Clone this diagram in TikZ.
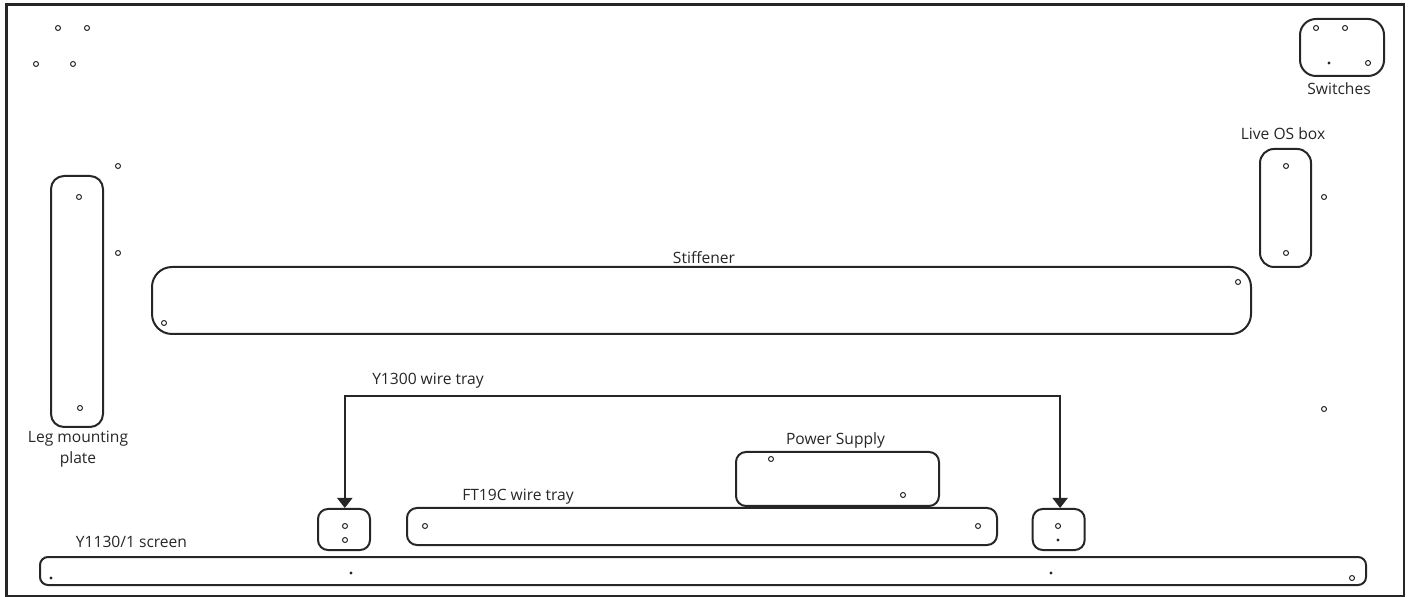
\documentclass[tikz,border=0pt]{standalone}
\usepackage{fontspec}
\setmainfont{Open Sans}
\usetikzlibrary{arrows.meta, calc}
\tikzset{
  plate/.style={draw=black!85, line width=1pt, rounded corners=#1, inner sep=0pt},
  plate/.default=7pt,
  hole/.style={draw=black!85, line width=0.5pt, circle, inner sep=0pt, minimum size=2.5pt},
  blob/.style={fill=black!85, circle, inner sep=0pt, minimum size=1.7pt},
  lbl/.style={inner sep=0pt, font=\fontsize{7.8pt}{10pt}\selectfont, text=black!85, align=center},
  wire/.style={draw=black!85, line width=1pt, -{Triangle[length=5pt,width=7.5pt]}}
}
\begin{document}
\begin{tikzpicture}[x=0.5pt,y=-0.5pt]
\useasboundingbox (0,0) rectangle (1411,597);
\draw[black!85, line width=1.1pt] (6.5,4.5) rectangle (1404,595.8);
% plates
\node (leg) [plate=6.5pt, minimum width=26pt, minimum height=125.5pt] at (77,301.5) {};
\node (stiffener) [plate=10pt, minimum width=549.5pt, minimum height=33.5pt] at (701.5,300.5) {};
\node (liveos) [plate=7pt, minimum width=25.5pt, minimum height=59pt] at (1285.5,208) {};
\node (switches) [plate=8pt, minimum width=42pt, minimum height=28.5pt] at (1342,47.5) {};
\node (power) [plate=5pt, minimum width=101.5pt, minimum height=27pt] at (837.5,479) {};
\node (ft) [plate=5pt, minimum width=295pt, minimum height=18.5pt] at (702,526.5) {};
\node (trayl) [plate=5pt, minimum width=26pt, minimum height=20.5pt] at (344,529.5) {};
\node (trayr) [plate=5pt, minimum width=26pt, minimum height=20.5pt] at (1058.7,529.5) {};
\node (screen) [plate=4pt, minimum width=663pt, minimum height=14pt] at (703,571) {};
% holes
\foreach \hx/\hy in {58/28, 87/28, 36/64, 73/64, 118/166, 118/253, 79/197, 80/408, 164/323,
  1238/282, 1286/166, 1286/253, 1324/197, 1324/409, 1316/28, 1345/28, 1368/63,
  345/526, 345/540, 425/526, 978/526, 771/459, 903/495, 1058/526, 1352/578}
  \node[hole] at (\hx,\hy) {};
\foreach \hx/\hy in {1329/63, 1058/540, 51/578, 351/573, 1051/573}
  \node[blob] at (\hx,\hy) {};
% labels
\node (stifflbl) [lbl] at (704,258) {Stiffener};
\node (switchlbl) [lbl] at (1339,89) {Switches};
\node (livelbl) [lbl] at (1283,134) {Live OS box};
\node (leglbl) [lbl] at (78,449) {Leg mounting\\[0.5pt]plate};
\node (traylbl) [lbl] at (428,381) {Y1300 wire tray};
\node (powerlbl) [lbl] at (835.5,440.5) {Power Supply};
\node (ftlbl) [lbl] at (518,497) {FT19C wire tray};
\node (screenlbl) [lbl] at (131.5,542) {Y1130/1 screen};
% wire tray arrows
\coordinate (traytop) at (702,396);
\draw[wire] (traytop) -| ([xshift=0.4pt]trayl.north);
\draw[wire] (traytop) -| ([xshift=0.7pt]trayr.north);
\end{tikzpicture}
\end{document}
